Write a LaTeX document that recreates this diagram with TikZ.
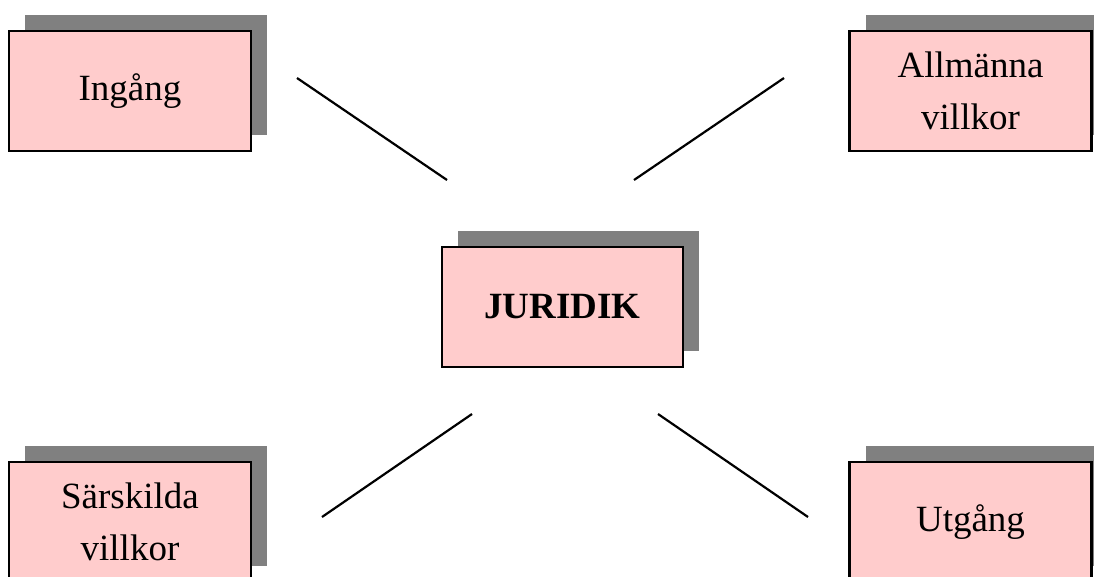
\documentclass[tikz,border=0pt]{standalone}
\usepackage{fontspec}
\setmainfont{Liberation Serif}
\usetikzlibrary{shadows}
\definecolor{boxpink}{HTML}{FFCCCC}
\definecolor{shadowgray}{HTML}{808080}
\begin{document}
\begin{tikzpicture}[x=1pt,y=-1pt,
  boxnode/.style={draw=black, line width=2.4pt, fill=boxpink,
    minimum width=242pt, minimum height=120pt, inner sep=0pt,
    align=center, font=\fontsize{37}{52}\selectfont,
    drop shadow={shadow xshift=16pt, shadow yshift=16.5pt, fill=shadowgray, opacity=1}},
  link/.style={line width=2.2pt, black}]
\useasboundingbox (0,0) rectangle (1094,576);
\node[boxnode] (ingang) at (130,91) {Ingång};
\node[boxnode] (allm) at (970.5,91) {Allmänna\\villkor};
\node[boxnode, minimum width=241pt] (jur) at (562.5,307) {\textbf{JURIDIK}};
\node[boxnode] (sarsk) at (130,522) {Särskilda\\villkor};
\node[boxnode] (utg) at (970.5,522) {Utgång};
\coordinate (a1) at (297,78);
\coordinate (a2) at (447,180);
\coordinate (b1) at (784,78);
\coordinate (b2) at (634,180);
\coordinate (c1) at (472,414);
\coordinate (c2) at (322,517);
\coordinate (d1) at (658,414);
\coordinate (d2) at (808,517);
\draw[link] (a1) -- (a2);
\draw[link] (b1) -- (b2);
\draw[link] (c1) -- (c2);
\draw[link] (d1) -- (d2);
\end{tikzpicture}
\end{document}
